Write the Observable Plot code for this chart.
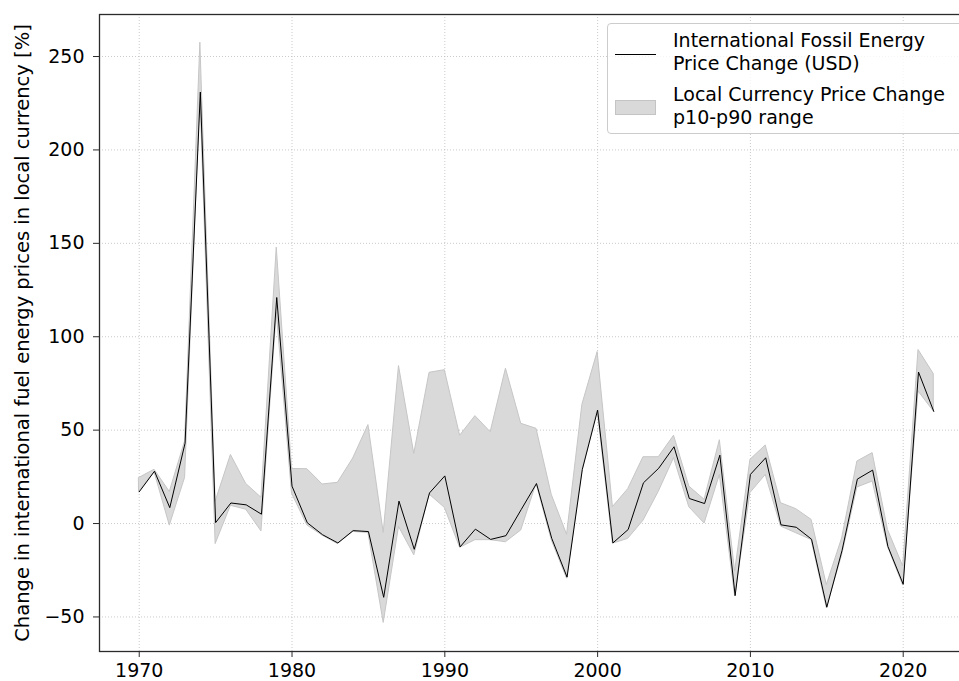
<!DOCTYPE html>
<html>
<head>
<meta charset="utf-8">
<script src="https://cdn.jsdelivr.net/npm/d3@7"></script>
<script src="https://cdn.jsdelivr.net/npm/@observablehq/plot@0.6"></script>
<style>
  html, body { margin: 0; padding: 0; background: #fff; overflow: hidden; }
  #wrap { position: relative; width: 959px; height: 681px; overflow: hidden; font-family: "DejaVu Sans", sans-serif; }
  #legend { position: absolute; left: 607px; top: 23px; width: 430px; height: 111px; box-sizing: border-box;
    border: 1px solid #cccccc; border-radius: 4px; background: rgba(255,255,255,0.8); font-size: 19px; color: #000; }
  #legend .row { position: absolute; left: 65px; line-height: 22.5px; white-space: nowrap; }
  #legend .swline { position: absolute; left: 7px; top: 30px; width: 41px; height: 0; border-top: 1px solid #000; }
  #legend .swpatch { position: absolute; left: 7px; top: 76px; width: 39px; height: 13px; background: #d9d9d9; border: 1px solid #c4c4c4; }
</style>
</head>
<body>
<div id="wrap">
  <div id="chart"></div>
  <div id="legend">
    <div class="swline"></div>
    <div class="row" style="top:5px">International Fossil Energy<br>Price Change (USD)</div>
    <div class="swpatch"></div>
    <div class="row" style="top:59px">Local Currency Price Change<br>p10-p90 range</div>
  </div>
</div>
<script>
const years = d3.range(1970, 2023);
const usdChange = [17, 28, 8.5, 43, 231, 0.5, 11, 10, 5, 121,
  20, 0.4, -6, -10.4, -3.8, -4.3, -39.5, 12, -13.8, 16.4,
  25.5, -12.5, -3, -8.5, -6.5, 7.5, 21.4, -8, -28.7, 29,
  60.7, -10.4, -3.2, 21.8, 29.6, 41.1, 13.4, 10.7, 36.6, -38.6,
  26.3, 35.2, -0.7, -2, -8.4, -44.8, -14.3, 23.8, 28.6, -12.3,
  -32.5, 81.1, 60];
const p90 = [24.4, 28.8, 16.9, 44, 257.4, 11.7, 36.7, 21.2, 13.8, 147.7,
  29.2, 29.1, 20.9, 21.8, 34.8, 52.7, -5, 84.3, 37.3, 80.7,
  82.1, 47, 57.5, 48.9, 82.9, 53.4, 50.7, 15.3, -6, 63.5,
  91.8, 8.8, 18.4, 35.5, 35.5, 47, 19.8, 12.7, 44.6, -25.7,
  34.1, 41.8, 10.9, 7.7, 2, -32.9, -8, 33.2, 37.7, -3.4,
  -23, 92.9, 80];
const p10 = [17, 27.5, -1.1, 24.4, 230, -11, 9.5, 7.4, -4.2, 113,
  16, -1, -6.5, -11, -4.5, -5, -53.2, -1.8, -17, 15.5,
  8.4, -13, -8.9, -8.9, -10, -3.7, 21.3, -9, -29.5, 28,
  60.5, -10.8, -8.2, 1.5, 17, 35, 8.7, 0, 26, -39,
  16.3, 26, -1.6, -5.2, -8.8, -45.2, -17, 19.3, 22.5, -12.5,
  -33.2, 70.7, 60];
const xTicks = [1970, 1980, 1990, 2000, 2010, 2020];
const yTicks = [-50, 0, 50, 100, 150, 200, 250];
const yLabel = "Change in international fuel energy prices in local currency [%]";

const data = years.map((y, i) => ({year: y, usd: usdChange[i], lo: p10[i], hi: p90[i]}));

const chart = Plot.plot({
  width: 959,
  height: 681,
  marginLeft: 99,
  marginTop: 14,
  marginBottom: 30,
  marginRight: -14,
  style: {fontFamily: "DejaVu Sans, sans-serif", fontSize: "19px", color: "#000", background: "#fff", overflow: "visible"},
  x: {domain: [1967.4, 2024.6]},
  y: {domain: [-68.5, 272.5]},
  marks: [
    Plot.gridX(xTicks, {stroke: "#bdbdbd", strokeOpacity: 1, strokeWidth: 0.8, strokeDasharray: "1,2"}),
    Plot.gridY(yTicks, {stroke: "#bdbdbd", strokeOpacity: 1, strokeWidth: 0.8, strokeDasharray: "1,2"}),
    Plot.areaY(data, {x: "year", y1: "lo", y2: "hi", fill: "#d9d9d9", fillOpacity: 1, stroke: "#c6c6c6", strokeWidth: 1}),
    Plot.lineY(data, {x: "year", y: "usd", stroke: "#000", strokeWidth: 1}),
    Plot.frame({stroke: "#2b2b2b", strokeWidth: 1.3}),
    Plot.axisX(xTicks, {tickFormat: d => String(d), tickSize: 6, tickPadding: 5.5, fontSize: 19, label: null, stroke: "#2b2b2b"}),
    Plot.axisY(yTicks, {tickFormat: d => String(d).replace("-", "\u2212"), tickSize: 6, tickPadding: 9, fontSize: 19, stroke: "#2b2b2b",
      label: yLabel, labelAnchor: "center", labelArrow: "none", labelOffset: 84})
  ]
});
document.getElementById("chart").appendChild(chart);
// axis label slightly larger, as in the reference
chart.querySelectorAll("text").forEach(t => {
  if (t.textContent === yLabel) t.setAttribute("font-size", "19.5");
});
</script>
</body>
</html>
